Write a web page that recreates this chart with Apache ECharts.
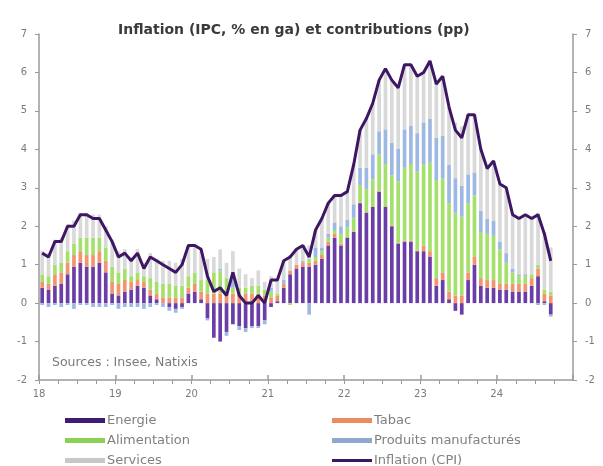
<!DOCTYPE html>
<html><head><meta charset="utf-8">
<script src="https://cdn.jsdelivr.net/npm/echarts@6/dist/echarts.min.js"></script>
<style>html,body{margin:0;padding:0;background:#fff}#c{width:603px;height:466px}</style>
</head><body><div id="c"></div>
<script>
const yearLabels = ['18','19','20','21','22','23','24'];
const months = [];
for (let y = 2018; y <= 2024; y++) for (let m = 1; m <= 12; m++) months.push(y + '-' + String(m).padStart(2, '0'));

const energie = [
  0.4,0.35,0.45,0.5,0.75,0.95,1.05,0.95,0.95,1.05,0.8,0.25,
  0.2,0.3,0.35,0.45,0.4,0.2,0.1,0.0,-0.1,-0.15,-0.1,0.25,
  0.3,0.1,-0.4,-0.9,-1.0,-0.75,-0.55,-0.6,-0.65,-0.6,-0.6,-0.45,
  -0.1,0.05,0.4,0.75,0.9,0.95,0.95,1.0,1.15,1.5,1.7,1.5,
  1.7,1.85,2.6,2.35,2.5,2.9,2.5,2.0,1.55,1.6,1.6,1.35,
  1.35,1.2,0.45,0.6,0.1,-0.2,-0.3,0.6,1.0,0.45,0.4,0.4,
  0.35,0.35,0.3,0.3,0.3,0.45,0.7,0.05,-0.3
];
const tabac = [
  0.15,0.15,0.3,0.3,0.3,0.3,0.3,0.3,0.3,0.3,0.3,0.3,
  0.3,0.3,0.2,0.15,0.15,0.15,0.15,0.15,0.15,0.15,0.15,0.15,
  0.2,0.2,0.25,0.25,0.25,0.25,0.25,0.25,0.25,0.25,0.25,0.2,
  0.15,0.15,0.1,0.1,0.1,0.1,0.1,0.1,0.1,0.1,0.1,0.05,
  0.02,0.02,0.02,0.02,0.02,0.02,0.02,0.02,0.02,0.02,0.02,0.02,
  0.15,0.15,0.2,0.2,0.2,0.2,0.2,0.2,0.2,0.2,0.2,0.2,
  0.15,0.15,0.2,0.2,0.2,0.2,0.2,0.2,0.2
];
const alimentation = [
  0.2,0.2,0.25,0.25,0.3,0.3,0.35,0.45,0.45,0.35,0.35,0.4,
  0.3,0.3,0.15,0.2,0.15,0.3,0.3,0.35,0.35,0.3,0.3,0.3,
  0.3,0.3,0.35,0.55,0.6,0.4,0.15,0.15,0.15,0.2,0.2,0.15,
  0.15,0.05,0.0,-0.05,0.0,0.0,0.1,0.1,0.1,0.1,0.1,0.25,
  0.25,0.35,0.45,0.6,0.7,0.95,1.1,1.3,1.6,1.9,2.0,2.05,
  2.1,2.3,2.55,2.45,2.3,2.15,2.05,1.8,1.6,1.2,1.2,1.15,
  0.9,0.55,0.3,0.2,0.2,0.1,0.1,0.1,0.1
];
const manufactures = [
  -0.05,-0.1,-0.05,-0.1,-0.05,-0.15,-0.05,-0.05,-0.1,-0.1,-0.1,-0.05,
  -0.15,-0.1,-0.1,-0.1,-0.15,-0.1,-0.05,-0.1,-0.1,-0.1,-0.05,0.0,
  0.0,0.0,-0.05,0.0,0.05,-0.1,0.4,-0.1,-0.1,-0.05,-0.05,-0.1,
  0.1,0.0,0.1,0.0,0.0,0.05,-0.3,0.25,0.1,0.1,0.2,0.2,
  0.2,0.35,0.45,0.55,0.65,0.6,0.9,0.85,0.85,1.0,1.0,1.0,
  1.1,1.15,1.1,1.1,1.0,0.9,0.8,0.75,0.6,0.55,0.4,0.4,
  0.2,0.25,0.1,0.05,0.05,0.0,-0.05,-0.05,-0.05
];
const services = [
  0.6,0.6,0.65,0.65,0.7,0.6,0.65,0.65,0.6,0.6,0.55,0.7,
  0.55,0.5,0.5,0.6,0.35,0.65,0.6,0.6,0.6,0.6,0.7,0.8,
  0.7,0.8,0.55,0.4,0.5,0.4,0.55,0.5,0.35,0.2,0.4,0.2,
  0.3,0.35,0.5,0.4,0.4,0.4,0.35,0.45,0.75,0.8,0.7,0.8,
  0.73,1.03,0.98,1.28,1.33,1.33,1.58,1.63,1.58,1.68,1.58,1.48,
  1.3,1.5,1.4,1.55,1.5,1.45,1.55,1.55,1.5,1.6,1.3,1.55,
  1.5,1.7,1.4,1.45,1.55,1.45,1.35,1.5,1.15
];
const inflation = [
  1.3,1.2,1.6,1.6,2.0,2.0,2.3,2.3,2.2,2.2,1.9,1.6,
  1.2,1.3,1.1,1.3,0.9,1.2,1.1,1.0,0.9,0.8,1.0,1.5,
  1.5,1.4,0.7,0.3,0.4,0.2,0.8,0.2,0.0,0.0,0.2,0.0,
  0.6,0.6,1.1,1.2,1.4,1.5,1.2,1.9,2.2,2.6,2.8,2.8,
  2.9,3.6,4.5,4.8,5.2,5.8,6.1,5.8,5.6,6.2,6.2,5.9,
  6.0,6.3,5.7,5.9,5.1,4.5,4.3,4.9,4.9,4.0,3.5,3.7,
  3.1,3.0,2.3,2.2,2.3,2.2,2.3,1.8,1.1
];

const FONT = 'DejaVu Sans';
const axisGray = '#9a9a9a';
const labelGray = '#7a7a7a';

function bar(name, data, color) {
  return { name, type: 'bar', stack: 'c', data, xAxisIndex: 0, yAxisIndex: 0,
    barCategoryGap: '42%', itemStyle: { color }, emphasis: { disabled: true } };
}
function leg(name, left, top, h, color) {
  return { data: [{ name, itemStyle: { color } }], left, top, padding: 0, orient: 'horizontal', icon: 'rect',
    itemWidth: 40, itemHeight: h, selectedMode: false,
    textStyle: { fontFamily: FONT, fontSize: 13, color: '#808080', padding: [0, 0, 0, -3] } };
}
const yAx = (pos) => ({
  type: 'value', position: pos, min: -2, max: 7, interval: 1,
  axisLine: { show: true, onZero: false, lineStyle: { color: axisGray, width: 1.5 } },
  axisTick: { show: true, length: 4, lineStyle: { color: axisGray } },
  splitLine: { show: false },
  axisLabel: { fontFamily: FONT, fontSize: 10, color: labelGray, margin: 12 }
});

const chart = echarts.init(document.getElementById('c'), null, { renderer: 'canvas' });
chart.setOption({
  animation: false,
  backgroundColor: '#fff',
  title: { text: 'Inflation (IPC, % en ga) et contributions (pp)', left: 113, top: 18,
    textStyle: { fontFamily: FONT, fontSize: 14, fontWeight: 'bold', color: '#3a3a3a' } },
  grid: { left: 39, right: 30, top: 34, bottom: 86, containLabel: false },
  legend: [
    leg('Energie', 65, 414, 5, '#3f1c72'),
    leg('Alimentation', 65, 434, 5, '#8ccf55'),
    leg('Services', 65, 454, 5, '#c8c8c8'),
    leg('Tabac', 332, 414, 5, '#ee8a60'),
    leg('Produits manufacturés', 332, 434, 5, '#8fa9cc'),
    leg('Inflation (CPI)', 332, 454, 3, '#3d1763')
  ],
  xAxis: [
    { type: 'category', data: months, show: false, boundaryGap: true },
    { type: 'value', min: 0, max: 84, interval: 3, position: 'bottom',
      axisLine: { show: true, onZero: false, lineStyle: { color: axisGray, width: 1.5 } },
      axisTick: { show: true, length: 4, lineStyle: { color: axisGray, width: 1 } },
      splitLine: { show: false },
      axisLabel: { fontFamily: FONT, fontSize: 10, color: labelGray, margin: 9, showMaxLabel: false,
        formatter: v => (v % 12 === 0 && v / 12 < yearLabels.length) ? yearLabels[v / 12] : '' } },
    { type: 'value', min: 0, max: 84, interval: 12, position: 'bottom',
      axisLine: { show: false, onZero: false },
      axisTick: { show: true, inside: true, length: 5, lineStyle: { color: axisGray, width: 1.5 } },
      axisLabel: { show: false }, splitLine: { show: false } }
  ],
  yAxis: [yAx('left'), yAx('right')],
  graphic: [{ type: 'text', left: 52, top: 356,
    style: { text: 'Sources : Insee, Natixis', font: '12.5px "DejaVu Sans"', fill: '#7a7a7a' } }],
  series: [
    bar('Energie', energie, '#6a3ea6'),
    bar('Tabac', tabac, '#f29470'),
    bar('Alimentation', alimentation, '#a6e06c'),
    bar('Produits manufacturés', manufactures, '#9db8e3'),
    bar('Services', services, '#d9d9d9'),
    { name: 'Inflation (CPI)', type: 'line', data: inflation, xAxisIndex: 0, yAxisIndex: 0,
      symbol: 'none', z: 5, lineStyle: { color: '#3d1763', width: 3 }, itemStyle: { color: '#3d1763' },
      emphasis: { disabled: true } }
  ]
});
</script></body></html>
